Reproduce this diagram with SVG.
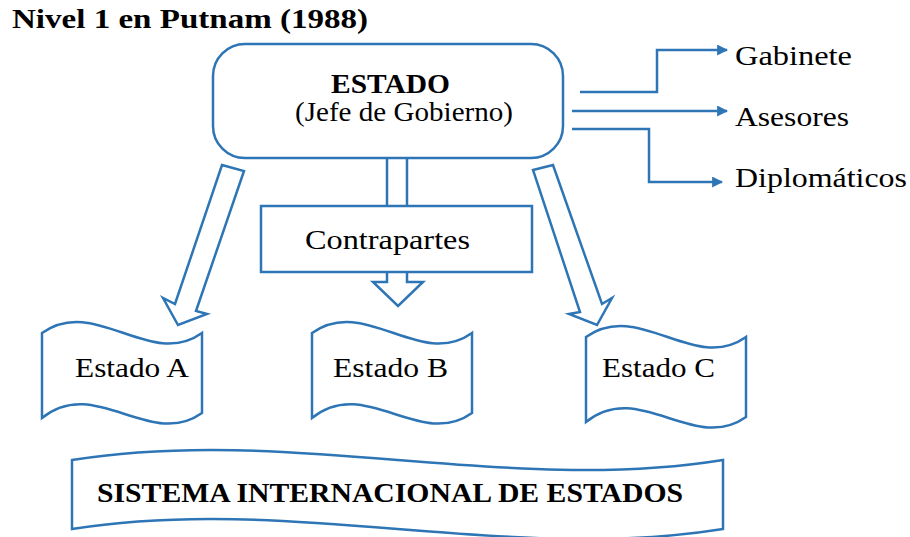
<svg xmlns="http://www.w3.org/2000/svg" width="910" height="537" viewBox="0 0 910 537">
<defs>
<style>
.s{fill:#fff;stroke:#2E75B6;stroke-width:2.5;stroke-linejoin:miter}
.ln{fill:none;stroke:#2E75B6;stroke-width:2.5}
.t{font-family:"Liberation Serif","Times New Roman",serif;font-size:28px;fill:#000}
.b{font-weight:bold}
</style>
<marker id="ah" viewBox="0 0 10 10" refX="9" refY="5" markerWidth="4.4" markerHeight="4.4" markerUnits="strokeWidth" orient="auto">
<path d="M0,0 L10,5 L0,10 Z" fill="#2E75B6"/>
</marker>
</defs>
<rect width="910" height="537" fill="#fff"/>
<text class="t b" x="12" y="28" font-size="26" textLength="356" lengthAdjust="spacingAndGlyphs">Nivel 1 en Putnam (1988)</text>

<g id="connectors">
<path class="ln" d="M580,92 H657 V50 H727" marker-end="url(#ah)"/>
<path class="ln" d="M572,111 H727" marker-end="url(#ah)"/>
<path class="ln" d="M572,129 H649 V182 H722" marker-end="url(#ah)"/>
<polygon class="s" points="222,165 244,171 196,311 207,314 178,325 163,298 175,304"/>
<polygon class="s" points="533,170 553,165 602,304 612,298 597,325 569,314 580,312"/>
<path class="ln" d="M387,158 V206 M407,158 V206"/>
<polygon class="s" points="387,271 407,271 407,282 423,282 398,306 373,282 387,282"/>
</g>

<g id="estado">
<rect class="s" x="213" y="44" width="350" height="114" rx="32" ry="32"/>
<text class="t b" x="390.5" y="93" text-anchor="middle" font-size="26" textLength="119" lengthAdjust="spacingAndGlyphs">ESTADO</text>
<text class="t" x="404" y="121" text-anchor="middle" textLength="218" lengthAdjust="spacingAndGlyphs">(Jefe de Gobierno)</text>
</g>

<g id="gabinete"><text class="t" x="735" y="65" textLength="117" lengthAdjust="spacingAndGlyphs">Gabinete</text></g>
<g id="asesores"><text class="t" x="735" y="126" textLength="114" lengthAdjust="spacingAndGlyphs">Asesores</text></g>
<g id="diplomaticos"><text class="t" x="735" y="187" textLength="172" lengthAdjust="spacingAndGlyphs">Diplomáticos</text></g>

<g id="contrapartes">
<rect class="s" x="261" y="206" width="271" height="66"/>
<text class="t" x="305" y="249" textLength="165" lengthAdjust="spacingAndGlyphs">Contrapartes</text>
</g>

<g id="estadoA">
<path class="s" d="M42,333 C95,295 150,370 202,333 V413 C150,450 95,375 42,418 Z"/>
<text class="t" x="75" y="377" textLength="114" lengthAdjust="spacingAndGlyphs">Estado A</text>
</g>
<g id="estadoB">
<path class="s" d="M312,333 C365,295 420,370 472,333 V413 C420,450 365,375 312,418 Z"/>
<text class="t" x="333" y="377" textLength="115" lengthAdjust="spacingAndGlyphs">Estado B</text>
</g>
<g id="estadoC">
<path class="s" d="M586,337 C639,299 694,374 746,337 V417 C694,454 639,379 586,422 Z"/>
<text class="t" x="602" y="377" textLength="113" lengthAdjust="spacingAndGlyphs">Estado C</text>
</g>

<g id="sistema">
<path class="s" d="M72,460 C289,425 506,495 723,460 V529 C506,564 289,494 72,529 Z"/>
<text class="t b" x="97" y="502" font-size="26" textLength="586" lengthAdjust="spacingAndGlyphs">SISTEMA INTERNACIONAL DE ESTADOS</text>
</g>
</svg>
